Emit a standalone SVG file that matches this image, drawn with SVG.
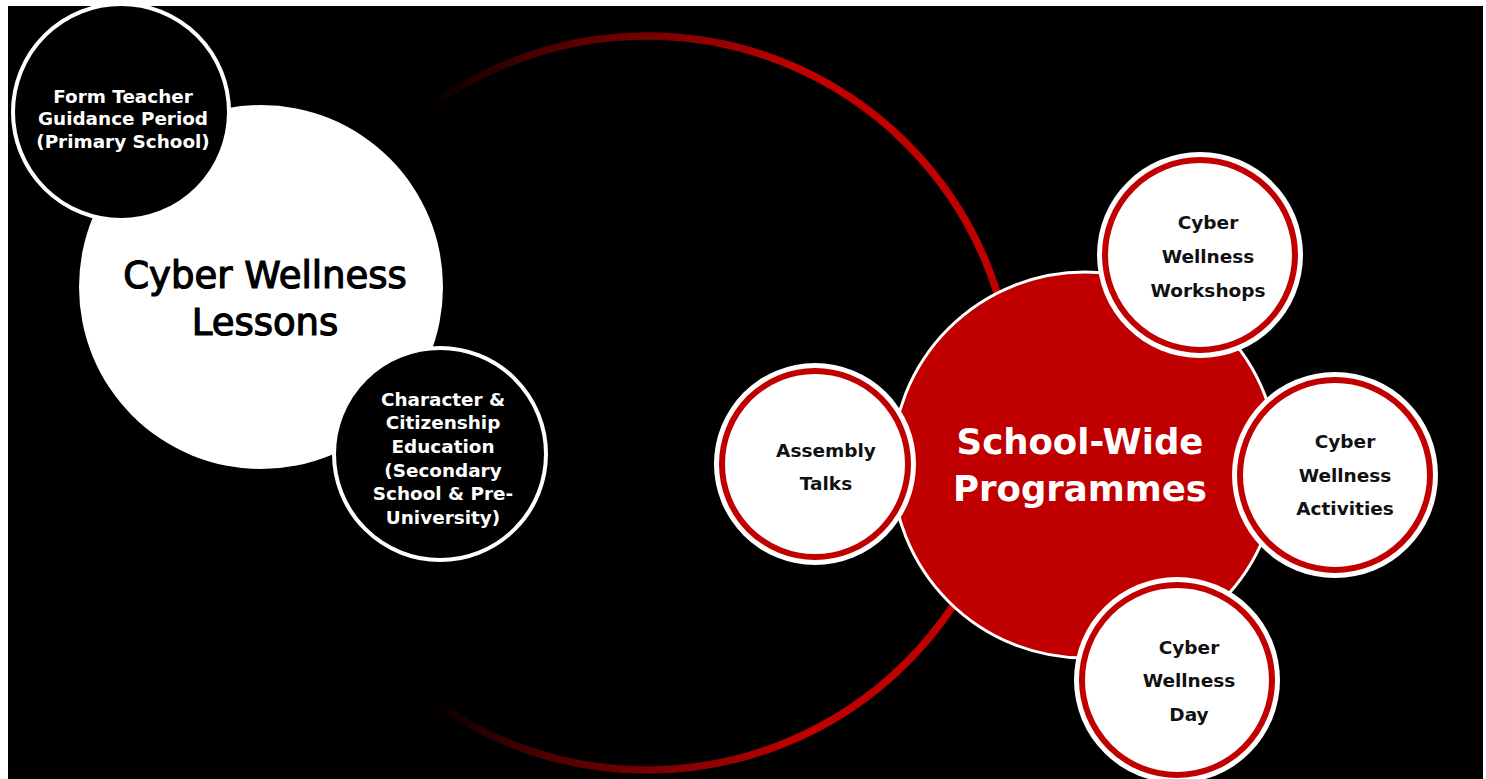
<svg xmlns="http://www.w3.org/2000/svg" width="1486" height="779" viewBox="0 0 1486 779">
  <defs>
    <linearGradient id="arcGrad" gradientUnits="userSpaceOnUse" x1="430" y1="0" x2="800" y2="0">
      <stop offset="0" stop-color="#c00000" stop-opacity="0"/>
      <stop offset="0.45" stop-color="#8a0000" stop-opacity="0.7"/>
      <stop offset="1" stop-color="#c00000" stop-opacity="1"/>
    </linearGradient>
    <style>
      .lbl { font-family: "DejaVu Sans", "Liberation Sans", sans-serif; font-weight: bold; text-anchor: middle; }
      .wsm { fill: #ffffff; font-size: 18.4px; }
      .bsm { fill: #111111; font-size: 18.5px; }
      .big { font-family: "DejaVu Sans", "Liberation Sans", sans-serif; text-anchor: middle; font-size: 37px; }
      .prog { font-family: "DejaVu Sans", "Liberation Sans", sans-serif; text-anchor: middle; font-size: 35.5px; font-weight: bold; fill: #ffffff; }
      .sat-outer { fill: #ffffff; }
      .sat-ring { fill: none; stroke: #c00000; stroke-width: 6; }
    </style>
  </defs>

  <rect x="0" y="0" width="1486" height="779" fill="#ffffff"/>
  <rect x="8" y="6" width="1475" height="773" fill="#000000"/>

  <g id="connectors">
    <circle cx="647" cy="403" r="367" fill="none" stroke="url(#arcGrad)" stroke-width="7.5"/>
  </g>

  <g id="lessons">
    <circle cx="261" cy="287" r="182" fill="#ffffff"/>
    <text class="big" x="265" y="288" fill="#000" stroke="#000" stroke-width="1.2">Cyber Wellness</text>
    <text class="big" x="265" y="335" fill="#000" stroke="#000" stroke-width="1.2">Lessons</text>
  </g>

  <g id="form-teacher">
    <circle cx="121" cy="112" r="108" fill="#000000" stroke="#ffffff" stroke-width="4"/>
    <text class="lbl wsm" x="123" y="103">Form Teacher</text>
    <text class="lbl wsm" x="123" y="125">Guidance Period</text>
    <text class="lbl wsm" x="123" y="148">(Primary School)</text>
  </g>

  <g id="cce">
    <circle cx="440" cy="454" r="106" fill="#000000" stroke="#ffffff" stroke-width="4"/>
    <text class="lbl wsm" x="443" y="406">Character &amp;</text>
    <text class="lbl wsm" x="443" y="429">Citizenship</text>
    <text class="lbl wsm" x="443" y="453">Education</text>
    <text class="lbl wsm" x="443" y="477">(Secondary</text>
    <text class="lbl wsm" x="443" y="500">School &amp; Pre-</text>
    <text class="lbl wsm" x="443" y="524">University)</text>
  </g>

  <g id="school-wide">
    <circle cx="1085" cy="465" r="193" fill="#c00000" stroke="#ffffff" stroke-width="3"/>
    <text class="prog" x="1080" y="454">School-Wide</text>
    <text class="prog" x="1080" y="501">Programmes</text>
  </g>

  <g id="workshops">
    <circle class="sat-outer" cx="1200" cy="255" r="103"/>
    <circle class="sat-ring" cx="1200" cy="255" r="95"/>
    <text class="lbl bsm" x="1208" y="229">Cyber</text>
    <text class="lbl bsm" x="1208" y="263">Wellness</text>
    <text class="lbl bsm" x="1208" y="297">Workshops</text>
  </g>

  <g id="assembly">
    <circle class="sat-outer" cx="815" cy="464" r="101"/>
    <circle class="sat-ring" cx="815" cy="464" r="93"/>
    <text class="lbl bsm" x="826" y="457">Assembly</text>
    <text class="lbl bsm" x="826" y="490">Talks</text>
  </g>

  <g id="activities">
    <circle class="sat-outer" cx="1335" cy="475" r="103"/>
    <circle class="sat-ring" cx="1335" cy="475" r="95"/>
    <text class="lbl bsm" x="1345" y="448">Cyber</text>
    <text class="lbl bsm" x="1345" y="482">Wellness</text>
    <text class="lbl bsm" x="1345" y="515">Activities</text>
  </g>

  <g id="day">
    <circle class="sat-outer" cx="1177" cy="680" r="103"/>
    <circle class="sat-ring" cx="1177" cy="680" r="95"/>
    <text class="lbl bsm" x="1189" y="654">Cyber</text>
    <text class="lbl bsm" x="1189" y="687">Wellness</text>
    <text class="lbl bsm" x="1189" y="721">Day</text>
  </g>
</svg>
